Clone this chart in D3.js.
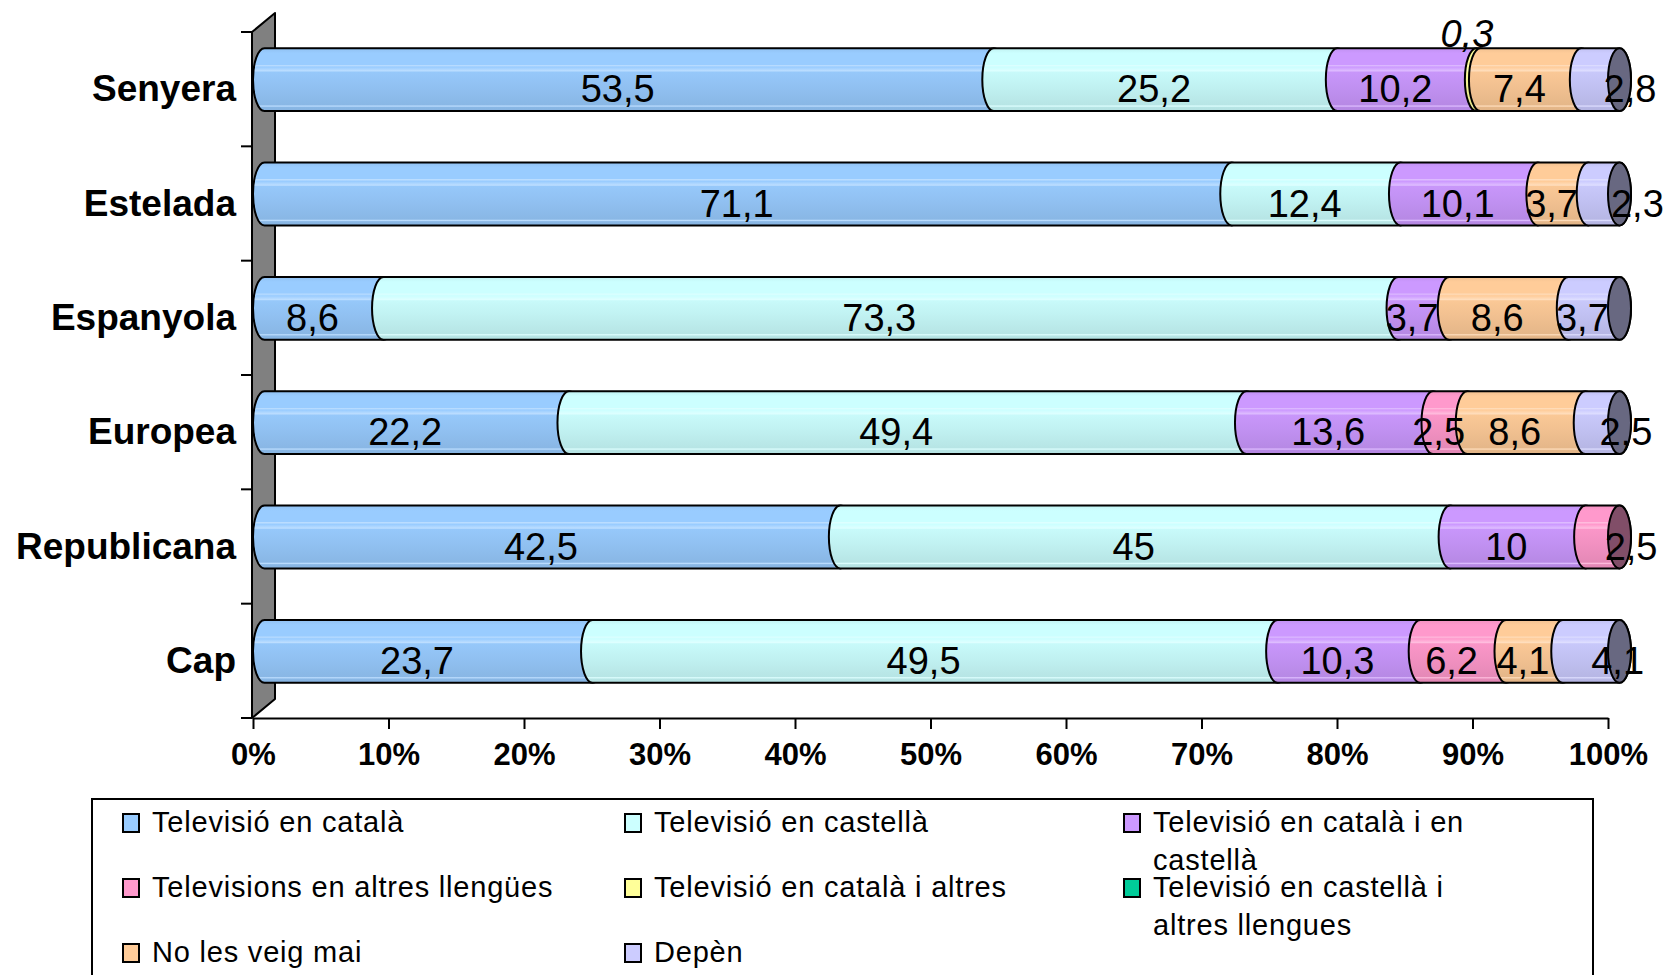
<!DOCTYPE html>
<html>
<head>
<meta charset="utf-8">
<script src="https://cdn.jsdelivr.net/npm/d3@7"></script>
<style>
  body { margin: 0; background: #fff; }
  svg text { font-family: "Liberation Sans", Arial, sans-serif; }
</style>
</head>
<body>
<script>
"use strict";
const categories = ["Senyera", "Estelada", "Espanyola", "Europea", "Republicana", "Cap"];
const seriesNames = [
    "Televisió en català",
    "Televisió en castellà",
    "Televisió en català i en castellà",
    "Televisions en altres llengües",
    "Televisió en català i altres",
    "Televisió en castellà i altres llengues",
    "No les veig mai",
    "Depèn"
];
const seriesColors = ["#99ccff", "#ccffff", "#cc99ff", "#ff99cc", "#ffff99", "#00cc99", "#ffcc99", "#ccccff"];
// values per series, one per category
const tvCatala = [53.5, 71.1, 8.6, 22.2, 42.5, 23.7];
const tvCastella = [25.2, 12.4, 73.3, 49.4, 45, 49.5];
const tvCatalaCastella = [10.2, 10.1, 3.7, 13.6, 10, 10.3];
const tvAltresLlengues = [0, 0, 0, 2.5, 2.5, 6.2];
const tvCatalaAltres = [0.3, 0, 0, 0, 0, 0];
const tvCastellaAltres = [0, 0, 0, 0, 0, 0];
const noLesVeig = [7.4, 3.7, 8.6, 8.6, 0, 4.1];
const depen = [2.8, 2.3, 3.7, 2.5, 0, 4.1];
const seriesValues = [tvCatala, tvCastella, tvCatalaCastella, tvAltresLlengues,
    tvCatalaAltres, tvCastellaAltres, noLesVeig, depen];

// labels that were dragged off their segment in the original
const labelNudge = {
    "Senyera|7": { dx: 41, dy: 0 },
    "Senyera|4": { dx: 0, dy: -55, italic: true },
    "Estelada|7": { dx: 45, dy: 0 },
    "Europea|7": { dx: 35, dy: 0 },
    "Republicana|3": { dx: 40, dy: 0 },
    "Cap|7": { dx: 38, dy: 0 }
};

const W = 1669, H = 975;
const svg = d3.select("body").append("svg").attr("width", W).attr("height", H);
const defs = svg.append("defs");

const x = d3.scaleLinear().domain([0, 1]).range([253, 1608]);
const y = d3.scaleBand().domain(categories).range([32, 718])
    .paddingInner(0.45).paddingOuter(0.225);
const depth = { x: 23, y: -19 };
const off = { x: depth.x / 2, y: depth.y / 2 };
const rx = 11.5;

// gradients: striped cylinder shading
seriesColors.forEach((c, i) => {
    const base = d3.color(c);
    const light = d3.interpolateRgb(c, "#ffffff")(0.35);
    const g = defs.append("linearGradient").attr("id", "grad" + i)
        .attr("x1", 0).attr("y1", 0).attr("x2", 0).attr("y2", 1);
    [
        [0, base.darker(0.15)],
        [0.08, base],
        [0.26, base],
        [0.27, light],
        [0.3, base],
        [0.36, light],
        [0.38, base.darker(0.05)],
        [0.6, base.darker(0.15)],
        [0.9, base.darker(0.3)],
        [0.92, light],
        [0.94, base.darker(0.3)],
        [1, base.darker(0.35)]
    ].forEach(([o, col]) => g.append("stop").attr("offset", o).attr("stop-color", col));
});

// left wall
const wallX = x(0) - 1;
svg.append("path")
    .attr("d", `M${wallX},32 L${wallX + depth.x},${32 + depth.y} L${wallX + depth.x},${718 + depth.y} L${wallX},718 Z`)
    .attr("fill", "#808080").attr("stroke", "#000").attr("stroke-width", 2)
    .attr("stroke-linejoin", "round");

// category ticks on the wall
d3.range(categories.length + 1).forEach(i => {
    const yy = y.range()[0] + i * y.step();
    svg.append("line").attr("x1", wallX - 11).attr("x2", wallX)
        .attr("y1", yy).attr("y2", yy).attr("stroke", "#000").attr("stroke-width", 2);
});

// x axis
const xAxis = svg.append("g").attr("transform", "translate(0,718)")
    .call(d3.axisBottom(x).ticks(10).tickFormat(d3.format(".0%"))
        .tickSize(11).tickSizeOuter(0).tickPadding(14));
xAxis.select(".domain").attr("stroke", "#000").attr("stroke-width", 2);
xAxis.selectAll(".tick line").attr("stroke", "#000").attr("stroke-width", 2);
xAxis.selectAll(".tick text")
    .attr("font-family", "'Liberation Sans', Arial, sans-serif")
    .attr("font-size", 31).attr("font-weight", "bold").attr("fill", "#000");

// category labels
svg.append("g").selectAll("text").data(categories).join("text")
    .attr("x", 236)
    .attr("y", d => y(d) + y.bandwidth() / 2 + 12)
    .attr("text-anchor", "end")
    .attr("font-size", 37).attr("font-weight", "bold")
    .text(d => d);

// stacked data
const rows = categories.map((c, i) => {
    const r = { category: c };
    seriesNames.forEach((s, j) => { r[s] = seriesValues[j][i]; });
    return r;
});
const stacked = d3.stack().keys(seriesNames).offset(d3.stackOffsetExpand)(rows);

const segPath = (x0, x1, yt, yb) => {
    const ry = (yb - yt) / 2;
    return `M${x0},${yt} L${x1},${yt} A${rx},${ry} 0 0 1 ${x1},${yb} L${x0},${yb} A${rx},${ry} 0 0 1 ${x0},${yt} Z`;
};

const fmt = v => String(v).replace(".", ",");

categories.forEach((cat, ci) => {
    const segs = stacked.map((layer, j) => ({
        j, s0: layer[ci][0], s1: layer[ci][1], v: seriesValues[j][ci]
    })).filter(d => d.v > 0);
    const yt = y(cat) + off.y;
    const yb = yt + y.bandwidth();
    const g = svg.append("g");
    g.selectAll("path.seg").data(segs).join("path").attr("class", "seg")
        .attr("d", d => segPath(x(d.s0) + off.x, x(d.s1) + off.x, yt, yb))
        .attr("fill", d => `url(#grad${d.j})`)
        .attr("stroke", "#000").attr("stroke-width", 2);
    const last = segs[segs.length - 1];
    g.append("ellipse")
        .attr("cx", x(last.s1) + off.x).attr("cy", (yt + yb) / 2)
        .attr("rx", rx).attr("ry", (yb - yt) / 2)
        .attr("fill", d3.color(seriesColors[last.j]).darker(1.9))
        .attr("stroke", "#000").attr("stroke-width", 2);
});

// value labels on top of all bars
categories.forEach((cat, ci) => {
    const segs = stacked.map((layer, j) => ({
        j, s0: layer[ci][0], s1: layer[ci][1], v: seriesValues[j][ci]
    })).filter(d => d.v > 0);
    const cy = y(cat) + y.bandwidth() / 2;
    svg.append("g").selectAll("text").data(segs).join("text")
        .attr("x", d => x((d.s0 + d.s1) / 2) + ((labelNudge[cat + "|" + d.j] || {}).dx || 0))
        .attr("y", d => cy + 13 + ((labelNudge[cat + "|" + d.j] || {}).dy || 0))
        .attr("text-anchor", "middle")
        .attr("font-size", 38)
        .attr("font-style", d => (labelNudge[cat + "|" + d.j] || {}).italic ? "italic" : "normal")
        .attr("fill", "#000")
        .text(d => fmt(d.v));
});

// legend
svg.append("rect").attr("x", 92).attr("y", 799).attr("width", 1501).attr("height", 220)
    .attr("fill", "#fff").attr("stroke", "#000").attr("stroke-width", 2);
const legCols = [123, 625, 1124];
const legWrap = [600, 600, 340];
const legRows = [823, 888, 953];
const legend = svg.append("g").selectAll("g").data(seriesNames).join("g")
    .attr("transform", (d, i) => `translate(${legCols[i % 3]},${legRows[Math.floor(i / 3)]})`);
legend.append("rect").attr("x", 0).attr("y", -9).attr("width", 16).attr("height", 18)
    .attr("fill", (d, i) => seriesColors[i]).attr("stroke", "#000").attr("stroke-width", 2);
legend.append("text").attr("x", 29).attr("y", 9).attr("font-size", 29)
    .attr("letter-spacing", 0.8).attr("fill", "#000")
    .each(function (d, i) {
        const t = d3.select(this);
        const maxW = legWrap[i % 3];
        const words = d.split(" ");
        let line = [];
        let tspan = t.append("tspan").attr("x", 29).attr("dy", 0);
        words.forEach(w => {
            line.push(w);
            tspan.text(line.join(" "));
            if (tspan.node().getComputedTextLength() > maxW && line.length > 1) {
                line.pop();
                tspan.text(line.join(" "));
                line = [w];
                tspan = t.append("tspan").attr("x", 29).attr("dy", 38).text(w);
            }
        });
    });
</script>
</body>
</html>
